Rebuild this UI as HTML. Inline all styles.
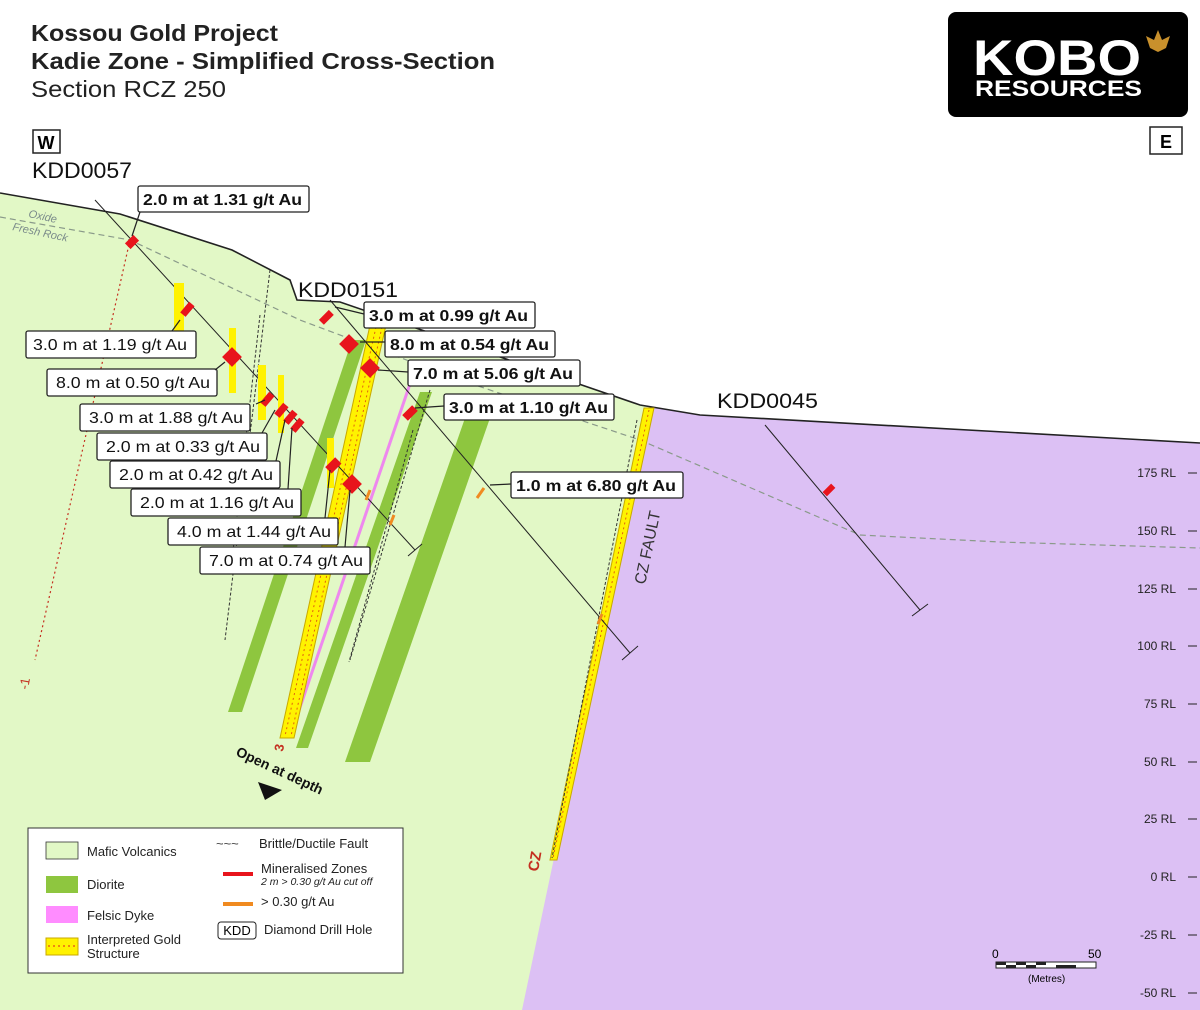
<!DOCTYPE html>
<html><head><meta charset="utf-8"><style>
html,body{margin:0;padding:0;background:#fff;}
svg{display:block;font-family:"Liberation Sans",sans-serif;}
</style></head><body>
<svg width="1200" height="1010" viewBox="0 0 1200 1010" xmlns="http://www.w3.org/2000/svg">
<rect width="1200" height="1010" fill="#fff"/>
<!-- ground -->
<polygon points="0,193 120,214 232,250 290,280 297,300 340,302 640,405 700,415 1200,443 1200,1010 0,1010" fill="#e2f8c6"/>
<polygon points="649,407 700,415 1200,443 1200,1010 522,1010" fill="#dcc0f4"/>
<polyline points="0,193 120,214 232,250 290,280 297,300 340,302 640,405 700,415 1200,443" fill="none" stroke="#222" stroke-width="1.6"/>
<!-- oxide line -->
<polyline points="0,217 130,240 300,320 460,380 640,440 860,535 1000,542 1200,548" fill="none" stroke="#8a9a8a" stroke-width="1.2" stroke-dasharray="6,4"/>
<text x="28" y="217" font-size="11" fill="#7a8a8a" font-style="italic" transform="rotate(12 28 217)">Oxide</text>
<text x="12" y="230" font-size="11" fill="#7a8a8a" font-style="italic" transform="rotate(12 12 230)">Fresh Rock</text>
<!-- diorite bands -->
<polygon points="352,340 366,340 242,712 228,712" fill="#8ec63f"/>
<polygon points="420,392 432,392 308,748 296,748" fill="#8ec63f"/>
<polygon points="472,398 497,398 370,762 345,762" fill="#8ec63f"/>
<!-- felsic -->
<line x1="412" y1="378" x2="293" y2="728" stroke="#ee88ee" stroke-width="3"/>
<!-- yellow structure -->
<polygon points="370,325 386,325 294,738 280,738" fill="#fff200" stroke="#c8a800" stroke-width="1"/>
<line x1="376" y1="327" x2="285" y2="736" stroke="#e06010" stroke-width="1" stroke-dasharray="2,3"/>
<line x1="382" y1="327" x2="291" y2="736" stroke="#e06010" stroke-width="1" stroke-dasharray="2,3"/>
<!-- CZ structure -->
<polygon points="644,408 654,408 557,860 550,860" fill="#fff200" stroke="#c8a800" stroke-width="1"/>
<line x1="649" y1="410" x2="553" y2="858" stroke="#e06010" stroke-width="1" stroke-dasharray="2,3"/>
<!-- wavy faults -->
<g fill="none" stroke="#333" stroke-width="1" stroke-dasharray="3,2">
<line x1="270" y1="270" x2="225" y2="640"/>
<line x1="260" y1="315" x2="232" y2="560"/>
<line x1="430" y1="390" x2="350" y2="660"/>
<line x1="413" y1="430" x2="349" y2="662"/>
<line x1="637" y1="420" x2="552" y2="858"/>
</g>
<!-- hole -1 red dotted -->
<line x1="130" y1="240" x2="35" y2="660" stroke="#c43020" stroke-width="1.2" stroke-dasharray="2,3"/>
<text x="28" y="690" font-size="13" fill="#c43020" transform="rotate(-80 28 690)">-1</text>
<!-- drill holes -->
<line x1="95" y1="200" x2="415" y2="550" stroke="#222" stroke-width="1"/>
<line x1="408" y1="556" x2="422" y2="544" stroke="#222"/>
<line x1="330" y1="300" x2="630" y2="653" stroke="#222" stroke-width="1"/>
<line x1="622" y1="660" x2="638" y2="646" stroke="#222"/>
<line x1="765" y1="425" x2="920" y2="610" stroke="#222" stroke-width="1"/>
<line x1="912" y1="616" x2="928" y2="604" stroke="#222"/>
<!-- yellow bars -->
<g fill="#fff200">
<rect x="174" y="283" width="10" height="60"/>
<rect x="229" y="328" width="7" height="65"/>
<rect x="258" y="365" width="8" height="55"/>
<rect x="278" y="375" width="6" height="58"/>
<rect x="327" y="438" width="7" height="50"/>
</g>
<!-- red mineralised -->
<g fill="#e8141c">
<rect x="128" y="236" width="8" height="12" transform="rotate(45 132 242)"/>
<rect x="184" y="302" width="7" height="14" transform="rotate(40 187 309)"/>
<rect x="225" y="350" width="14" height="14" transform="rotate(45 232 357)"/>
<rect x="264" y="392" width="7" height="14" transform="rotate(40 267 399)"/>
<rect x="278" y="403" width="7" height="14" transform="rotate(40 281 410)"/>
<rect x="287" y="410" width="7" height="14" transform="rotate(40 290 417)"/>
<rect x="294" y="418" width="7" height="14" transform="rotate(40 297 425)"/>
<rect x="323" y="310" width="7" height="14" transform="rotate(45 326 317)"/>
<rect x="342" y="337" width="14" height="14" transform="rotate(45 349 344)"/>
<rect x="363" y="361" width="14" height="14" transform="rotate(45 370 368)"/>
<rect x="406" y="406" width="8" height="14" transform="rotate(45 410 413)"/>
<rect x="329" y="458" width="9" height="14" transform="rotate(45 333 465)"/>
<rect x="345" y="477" width="14" height="14" transform="rotate(45 352 484)"/>
<rect x="826" y="484" width="6" height="12" transform="rotate(45 829 490)"/>
</g>
<g stroke="#f08a20" stroke-width="3">
<line x1="366" y1="500" x2="370" y2="490"/><line x1="390" y1="525" x2="394" y2="515"/>
<line x1="477" y1="498" x2="484" y2="488"/><line x1="598" y1="624" x2="602" y2="614"/>
</g>
<!-- labels -->
<g font-size="16" fill="#111">
<g stroke="#222" stroke-width="1.3" fill="#fff">
<rect x="138" y="186" width="171" height="26" rx="2"/>
<rect x="364" y="302" width="171" height="26" rx="2"/>
<rect x="26" y="331" width="170" height="27" rx="2"/>
<rect x="385" y="331" width="170" height="26" rx="2"/>
<rect x="408" y="360" width="172" height="26" rx="2"/>
<rect x="47" y="369" width="170" height="27" rx="2"/>
<rect x="444" y="394" width="170" height="26" rx="2"/>
<rect x="80" y="404" width="170" height="27" rx="2"/>
<rect x="97" y="433" width="170" height="27" rx="2"/>
<rect x="110" y="461" width="170" height="27" rx="2"/>
<rect x="511" y="472" width="172" height="26" rx="2"/>
<rect x="131" y="489" width="170" height="27" rx="2"/>
<rect x="168" y="518" width="170" height="27" rx="2"/>
<rect x="200" y="547" width="170" height="27" rx="2"/>
</g>
<g font-weight="bold" lengthAdjust="spacingAndGlyphs">
<text x="143" y="205" textLength="159" lengthAdjust="spacingAndGlyphs">2.0 m at 1.31 g/t Au</text>
<text x="369" y="321" textLength="159" lengthAdjust="spacingAndGlyphs">3.0 m at 0.99 g/t Au</text>
<text x="390" y="350" textLength="159" lengthAdjust="spacingAndGlyphs">8.0 m at 0.54 g/t Au</text>
<text x="413" y="379" textLength="160" lengthAdjust="spacingAndGlyphs">7.0 m at 5.06 g/t Au</text>
<text x="449" y="413" textLength="159" lengthAdjust="spacingAndGlyphs">3.0 m at 1.10 g/t Au</text>
<text x="516" y="491" textLength="160" lengthAdjust="spacingAndGlyphs">1.0 m at 6.80 g/t Au</text>
</g>
<text x="33" y="350" textLength="154" lengthAdjust="spacingAndGlyphs">3.0 m at 1.19 g/t Au</text>
<text x="56" y="388" textLength="154" lengthAdjust="spacingAndGlyphs">8.0 m at 0.50 g/t Au</text>
<text x="89" y="423" textLength="154" lengthAdjust="spacingAndGlyphs">3.0 m at 1.88 g/t Au</text>
<text x="106" y="452" textLength="154" lengthAdjust="spacingAndGlyphs">2.0 m at 0.33 g/t Au</text>
<text x="119" y="480" textLength="154" lengthAdjust="spacingAndGlyphs">2.0 m at 0.42 g/t Au</text>
<text x="140" y="508" textLength="154" lengthAdjust="spacingAndGlyphs">2.0 m at 1.16 g/t Au</text>
<text x="177" y="537" textLength="154" lengthAdjust="spacingAndGlyphs">4.0 m at 1.44 g/t Au</text>
<text x="209" y="566" textLength="154" lengthAdjust="spacingAndGlyphs">7.0 m at 0.74 g/t Au</text>
</g>
<!-- leaders -->
<g stroke="#222" stroke-width="1.2" fill="none">
<line x1="140" y1="212" x2="132" y2="236"/>
<line x1="180" y1="320" x2="172" y2="331"/>
<line x1="225" y1="362" x2="215" y2="370"/>
<line x1="265" y1="400" x2="256" y2="404"/>
<line x1="275" y1="410" x2="262" y2="433"/>
<line x1="285" y1="420" x2="276" y2="461"/>
<line x1="292" y1="428" x2="288" y2="489"/>
<line x1="330" y1="470" x2="325" y2="518"/>
<line x1="350" y1="490" x2="345" y2="547"/>
<line x1="335" y1="307" x2="364" y2="314"/>
<line x1="360" y1="342" x2="385" y2="342"/>
<line x1="378" y1="370" x2="408" y2="372"/>
<line x1="415" y1="408" x2="444" y2="406"/>
<line x1="490" y1="485" x2="511" y2="484"/>
</g>
<!-- KDD text -->
<text x="32" y="178" font-size="22" fill="#111" textLength="100" lengthAdjust="spacingAndGlyphs">KDD0057</text>
<text x="298" y="297" font-size="21" fill="#111" textLength="100" lengthAdjust="spacingAndGlyphs">KDD0151</text>
<text x="717" y="408" font-size="21" fill="#111" textLength="101" lengthAdjust="spacingAndGlyphs">KDD0045</text>
<text x="645" y="585" font-size="16" fill="#333" transform="rotate(-78 645 585)">CZ FAULT</text>
<text x="538" y="872" font-size="15" fill="#c43020" font-weight="bold" transform="rotate(-80 538 872)">CZ</text>
<text x="283" y="752" font-size="13" fill="#c43020" font-weight="bold" transform="rotate(-80 283 752)">3</text>
<text x="235" y="755" font-size="14" font-weight="bold" fill="#111" transform="rotate(25 235 755)">Open at depth</text>
<polygon points="258,782 282,790 265,800" fill="#111"/>
<!-- title -->
<text x="31" y="41" font-size="23" font-weight="bold" fill="#222" textLength="247" lengthAdjust="spacingAndGlyphs">Kossou Gold Project</text>
<text x="31" y="69" font-size="23" font-weight="bold" fill="#222" textLength="464" lengthAdjust="spacingAndGlyphs">Kadie Zone - Simplified Cross-Section</text>
<text x="31" y="97" font-size="23" fill="#222" textLength="195" lengthAdjust="spacingAndGlyphs">Section RCZ 250</text>
<rect x="33" y="130" width="27" height="23" fill="#fff" stroke="#222" stroke-width="1.5"/>
<text x="46" y="149" font-size="18" font-weight="bold" text-anchor="middle">W</text>
<rect x="1150" y="127" width="32" height="27" fill="#fff" stroke="#222" stroke-width="1.5"/>
<text x="1166" y="148" font-size="18" font-weight="bold" text-anchor="middle">E</text>
<!-- logo -->
<rect x="948" y="12" width="240" height="105" rx="8" fill="#000"/>
<text x="973" y="75" font-size="50" font-weight="bold" fill="#fff" textLength="168" lengthAdjust="spacingAndGlyphs">KOBO</text>
<text x="975" y="96" font-size="22" font-weight="bold" fill="#fff" textLength="167" lengthAdjust="spacingAndGlyphs">RESOURCES</text>
<polygon points="1158,30 1162,40 1170,36 1166,48 1158,52 1150,48 1146,36 1154,40" fill="#c8902c"/>
<!-- RL scale -->
<g font-size="12" fill="#222" text-anchor="end">
<text x="1176" y="477">175 RL</text><text x="1176" y="535">150 RL</text>
<text x="1176" y="593">125 RL</text><text x="1176" y="650">100 RL</text>
<text x="1176" y="708">75 RL</text><text x="1176" y="766">50 RL</text>
<text x="1176" y="823">25 RL</text><text x="1176" y="881">0 RL</text>
<text x="1176" y="939">-25 RL</text><text x="1176" y="997">-50 RL</text>
</g>
<g stroke="#222"><line x1="1188" y1="473" x2="1197" y2="473"/><line x1="1188" y1="531" x2="1197" y2="531"/><line x1="1188" y1="589" x2="1197" y2="589"/><line x1="1188" y1="646" x2="1197" y2="646"/><line x1="1188" y1="704" x2="1197" y2="704"/><line x1="1188" y1="762" x2="1197" y2="762"/><line x1="1188" y1="819" x2="1197" y2="819"/><line x1="1188" y1="877" x2="1197" y2="877"/><line x1="1188" y1="935" x2="1197" y2="935"/><line x1="1188" y1="993" x2="1197" y2="993"/></g>
<!-- scale bar -->
<rect x="996" y="962" width="100" height="6" fill="#fff" stroke="#222"/>
<g fill="#222"><rect x="996" y="962" width="10" height="3"/><rect x="1016" y="962" width="10" height="3"/><rect x="1036" y="962" width="10" height="3"/><rect x="1056" y="965" width="20" height="3"/><rect x="1006" y="965" width="10" height="3"/><rect x="1026" y="965" width="10" height="3"/></g>
<text x="992" y="958" font-size="12">0</text><text x="1088" y="958" font-size="12">50</text>
<text x="1028" y="982" font-size="10">(Metres)</text>
<!-- legend -->
<rect x="28" y="828" width="375" height="145" fill="#fff" stroke="#333"/>
<rect x="46" y="842" width="32" height="17" fill="#e2f8c6" stroke="#333" stroke-width="0.8"/>
<rect x="46" y="876" width="32" height="17" fill="#8ec63f"/>
<rect x="46" y="906" width="32" height="17" fill="#ff8cff"/>
<rect x="46" y="938" width="32" height="17" fill="#fff200" stroke="#c8a800"/>
<line x1="48" y1="946" x2="76" y2="946" stroke="#e02020" stroke-dasharray="2,3"/>
<g font-size="13" fill="#222">
<text x="87" y="856">Mafic Volcanics</text>
<text x="87" y="889">Diorite</text>
<text x="87" y="920">Felsic Dyke</text>
<text x="87" y="944">Interpreted Gold</text>
<text x="87" y="958">Structure</text>
<text x="259" y="848">Brittle/Ductile Fault</text>
<text x="261" y="873">Mineralised Zones</text>
<text x="261" y="906">&gt; 0.30 g/t Au</text>
<text x="264" y="934">Diamond Drill Hole</text>
</g>
<text x="216" y="848" font-size="13" fill="#444">~~~</text>
<text x="261" y="885" font-size="10.5" font-style="italic" fill="#222">2 m &gt; 0.30 g/t Au cut off</text>
<rect x="223" y="872" width="30" height="4" fill="#e8141c"/>
<rect x="223" y="902" width="30" height="4" fill="#f08a20"/>
<rect x="218" y="922" width="38" height="17" rx="3" fill="#fff" stroke="#222"/>
<text x="237" y="935" font-size="13" text-anchor="middle">KDD</text>
</svg>
</body></html>
